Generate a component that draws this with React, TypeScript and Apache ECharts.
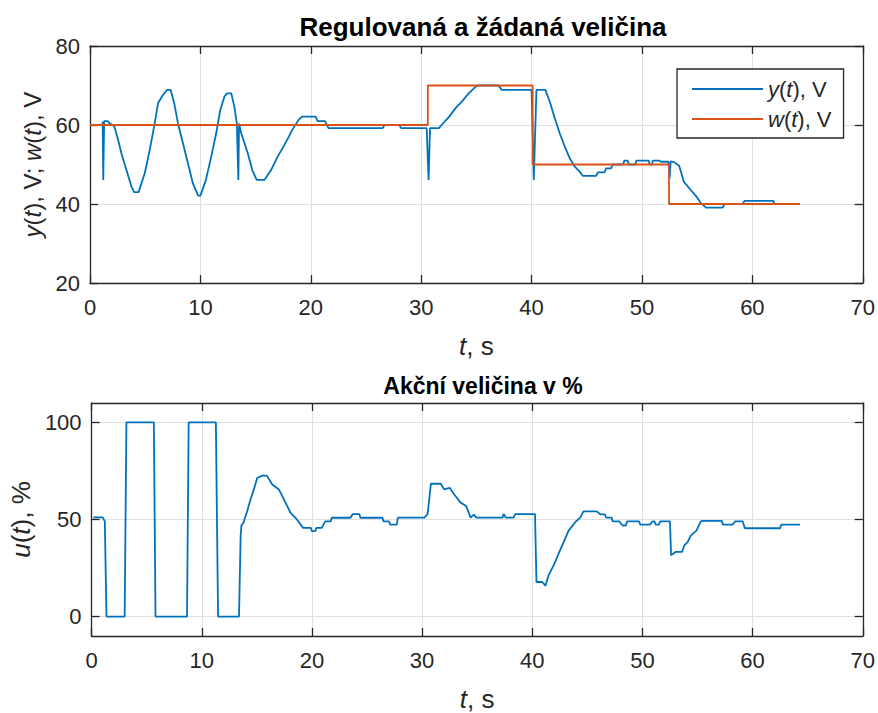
import React, { useEffect, useRef } from "react";
import * as echarts from "echarts";

// ---- data (t in s) ----
const yPoints: number[][] = [
  [1.05, 60.6], [1.15, 60.6], [1.2, 46.1], [1.28, 61], [1.6, 61], [1.75, 60.5], [2.2, 59.7], [2.55, 56.2],
  [2.85, 52.8], [3.3, 48.6], [3.76, 44.4], [4.0, 43], [4.4, 43], [4.96, 47.8], [5.41, 53.7], [5.86, 60.4],
  [6.16, 65.5], [6.6, 67.6], [7.0, 68.9], [7.3, 68.9], [7.6, 65.9], [7.97, 60.4], [8.42, 55.4], [8.87, 50.3],
  [9.32, 45.2], [9.8, 42.1], [10.0, 42.1], [10.5, 46.1], [10.98, 52], [11.43, 57.9], [11.8, 63.8], [12.18, 67.2],
  [12.4, 68], [12.8, 68], [13.08, 64.6], [13.3, 60.4], [13.44, 46.1], [13.5, 60.4], [13.7, 57.9], [14.3, 52.8],
  [14.7, 48.6], [15.1, 46.1], [15.8, 46.1], [16.4, 48.6], [17.0, 52], [17.6, 54.9], [18.0, 57], [18.3, 58.7],
  [18.9, 61.3], [19.2, 62.1], [20.45, 62.1], [20.6, 61], [21.3, 61], [21.6, 59.2], [26.5, 59.2], [26.7, 60],
  [28.0, 60], [28.2, 59.2], [30.5, 59.2], [30.67, 46.1], [30.8, 59.2], [31.6, 59.2], [31.85, 60], [32.5, 62],
  [33.1, 64.2], [33.7, 66], [34.3, 68], [34.9, 69.6], [35.1, 70], [37.0, 70], [37.3, 68.9], [40.0, 68.9],
  [40.2, 46.1], [40.44, 68.9], [41.25, 68.9], [41.65, 65.9], [42.1, 61.7], [42.55, 57.9], [43.0, 54.6],
  [43.45, 51.6], [43.9, 49.5], [44.35, 48.2], [44.65, 47.1], [45.85, 47.1], [46.0, 48], [46.6, 48], [46.75, 49],
  [47.2, 49], [47.35, 50], [48.3, 50], [48.4, 51], [48.7, 51], [48.8, 50], [49.4, 50], [49.5, 51], [50.6, 51],
  [50.7, 50], [50.9, 50], [51.0, 51], [51.6, 51], [51.7, 50.7], [52.4, 50.7], [52.5, 46.5], [52.6, 50.8],
  [52.9, 50.6], [53.37, 49.7], [53.8, 45.6], [54.4, 43.6], [54.9, 42], [55.32, 40.3], [55.8, 39.1], [57.3, 39.1],
  [57.5, 40], [59.1, 40], [59.3, 40.8], [61.9, 40.8], [62.0, 40], [64.3, 40],
];

const wPoints: number[][] = [
  [0, 60], [30.6, 60], [30.6, 70], [40.1, 70], [40.1, 50], [52.45, 50], [52.45, 40], [64.3, 40],
];

const uPoints: number[][] = [
  [0.15, 51.1], [1.0, 51.1], [1.2, 49], [1.35, 0], [3.0, 0], [3.16, 100], [5.65, 100], [5.8, 0], [8.66, 0],
  [8.81, 100], [11.28, 100], [11.48, 0], [13.38, 0], [13.53, 41.8], [13.6, 46.9], [13.8, 48.6], [14.13, 54.5],
  [14.43, 60.4], [14.73, 65.5], [15.03, 71.4], [15.5, 72.6], [15.9, 72.6], [16.4, 68], [17.0, 65.5], [17.6, 58.7],
  [18.04, 53.6], [18.6, 50.3], [19.2, 45.7], [19.9, 45.7], [20.0, 44], [20.3, 44], [20.4, 45.7], [20.9, 45.7],
  [21.2, 49], [21.7, 49], [21.8, 50.9], [23.5, 50.9], [23.7, 52.8], [24.3, 52.8], [24.4, 50.9], [26.4, 50.9],
  [26.5, 49], [27.0, 49], [27.1, 47.4], [27.7, 47.4], [27.8, 51], [30.2, 51], [30.5, 52.8], [30.8, 68.4],
  [31.7, 68.4], [32.0, 65.5], [32.5, 66.3], [32.9, 63], [33.5, 58.7], [34.0, 57], [34.4, 51], [34.7, 52.5],
  [34.9, 51], [37.3, 51], [37.4, 52.8], [37.6, 51], [38.3, 51], [38.45, 52.8], [40.25, 52.8], [40.38, 17.8],
  [40.9, 17.8], [41.2, 15.9], [41.5, 21.5], [41.95, 26.5], [42.4, 32.5], [42.85, 38.4], [43.3, 44.3],
  [43.9, 48.6], [44.35, 51], [44.65, 54.2], [45.85, 54.2], [46.2, 52.6], [46.6, 52.6], [46.7, 51], [47.2, 51],
  [47.3, 49], [47.9, 49], [48.2, 46.9], [48.5, 46.9], [48.6, 49], [49.7, 49], [49.8, 47.4], [50.7, 47.4],
  [50.9, 49], [51.1, 49], [51.2, 47.4], [51.5, 47.4], [51.6, 49], [52.5, 49], [52.6, 31.6], [53.0, 33.3],
  [53.6, 33.3], [53.8, 36.7], [54.1, 38.4], [54.4, 41.8], [54.9, 44.3], [55.3, 49], [55.5, 49.3], [57.2, 49.3],
  [57.3, 47.4], [58.2, 47.4], [58.4, 49], [59.1, 49], [59.3, 45.5], [62.5, 45.5], [62.6, 47.4], [64.3, 47.4],
];

const xTickRange = { min: 0, max: 70, interval: 10 };
const yTopRange = { min: 20, max: 80, interval: 20 };
const uRange = { min: -10, max: 110 };
const uTicks = [0, 50, 100];

const titleTop = "Regulovaná a žádaná veličina";
const titleBottom = "Akční veličina v %";

const BLUE = "#0072BD";
const ORANGE = "#D95319";
const AX = "#262626";
const GRIDC = "#e0e0e0";
const FONT = "Liberation Sans, Arial, Helvetica, sans-serif";
const TICK_FS = 22;
const XNAME_FS = 26;
const YNAME_FS = 24;
const LEG_FS = 22;

export default function App() {
  const ref = useRef<HTMLDivElement>(null);
  useEffect(() => {
    if (!ref.current) return;
    const chart = echarts.init(ref.current, undefined, { renderer: "svg" });
    const mkRich = (fs: number) => ({
      i: { fontStyle: "italic", fontSize: fs, fontFamily: FONT, color: AX },
      n: { fontSize: fs, fontFamily: FONT, color: AX },
    });
    const mainX = (gi: number) => ({
      type: "value",
      gridIndex: gi,
      ...xTickRange,
      name: "{i|t}{n|, s}",
      nameLocation: "middle",
      nameGap: 50,
      nameTextStyle: { rich: mkRich(XNAME_FS) },
      axisLine: { show: true, onZero: false, lineStyle: { color: AX, width: 1.3 } },
      axisTick: { show: true, inside: true, length: 8, lineStyle: { color: AX, width: 1.3 } },
      axisLabel: { color: AX, fontSize: TICK_FS, fontFamily: FONT, margin: 13 },
      splitLine: { show: true, lineStyle: { color: GRIDC, width: 1 } },
    });
    const topX = (gi: number) => ({
      type: "value",
      gridIndex: gi,
      position: "top",
      ...xTickRange,
      axisLine: { show: true, onZero: false, lineStyle: { color: AX, width: 1.3 } },
      axisTick: { show: true, inside: true, length: 8, lineStyle: { color: AX, width: 1.3 } },
      axisLabel: { show: false },
      splitLine: { show: false },
    });
    const yCommon = {
      axisLine: { show: true, onZero: false, lineStyle: { color: AX, width: 1.3 } },
      axisTick: { show: true, inside: true, length: 8, lineStyle: { color: AX, width: 1.3 } },
    };
    const option: any = {
      animation: false,
      backgroundColor: "#ffffff",
      title: [
        {
          text: titleTop,
          left: 478,
          top: 9,
          textAlign: "center",
          textStyle: { fontSize: 26, fontWeight: "bold", color: "#000", fontFamily: FONT },
        },
        {
          text: titleBottom,
          left: 478,
          top: 369,
          textAlign: "center",
          textStyle: { fontSize: 23, fontWeight: "bold", color: "#000", fontFamily: FONT },
        },
      ],
      legend: {
        data: ["y(t), V", "w(t), V"],
        orient: "vertical",
        left: 677,
        top: 69,
        padding: [9, 12, 8, 15],
        itemGap: 8,
        itemWidth: 71,
        itemHeight: 2,
        icon: "rect",
        borderColor: AX,
        borderWidth: 1.3,
        backgroundColor: "#fff",
        formatter: (name: string) =>
          name.startsWith("y") ? "{i|y}{n|(}{i|t}{n|), V}" : "{i|w}{n|(}{i|t}{n|), V}",
        textStyle: { fontSize: LEG_FS, fontFamily: FONT, color: AX, rich: mkRich(LEG_FS) },
      },
      grid: [
        { left: 90, top: 46, width: 776, height: 237 },
        { left: 90, top: 403, width: 776, height: 235 },
      ],
      xAxis: [mainX(0), topX(0), mainX(1), topX(1)],
      yAxis: [
        {
          type: "value",
          gridIndex: 0,
          ...yTopRange,
          name: "{i|y}{n|(}{i|t}{n|), V; }{i|w}{n|(}{i|t}{n|), V}",
          nameLocation: "middle",
          nameGap: 45,
          nameTextStyle: { rich: mkRich(YNAME_FS) },
          ...yCommon,
          axisLabel: { color: AX, fontSize: TICK_FS, fontFamily: FONT, margin: 10 },
          splitLine: { show: true, lineStyle: { color: GRIDC, width: 1 } },
        },
        {
          type: "value",
          gridIndex: 0,
          position: "right",
          ...yTopRange,
          ...yCommon,
          axisLabel: { show: false },
          splitLine: { show: false },
        },
        {
          type: "value",
          gridIndex: 1,
          ...uRange,
          name: "{i|u}{n|(}{i|t}{n|), %}",
          nameLocation: "middle",
          nameGap: 45,
          nameTextStyle: { rich: mkRich(YNAME_FS + 2) },
          axisLine: yCommon.axisLine,
          axisTick: { ...yCommon.axisTick, customValues: uTicks },
          axisLabel: { color: AX, fontSize: TICK_FS, fontFamily: FONT, margin: 10, customValues: uTicks },
          splitLine: { show: true, lineStyle: { color: GRIDC, width: 1 } },
        },
        {
          type: "value",
          gridIndex: 1,
          position: "right",
          ...uRange,
          axisLine: yCommon.axisLine,
          axisTick: { ...yCommon.axisTick, customValues: uTicks },
          axisLabel: { show: false },
          splitLine: { show: false },
        },
      ],
      series: [
        {
          name: "y(t), V",
          type: "line",
          xAxisIndex: 0,
          yAxisIndex: 0,
          data: yPoints,
          showSymbol: false,
          lineStyle: { color: BLUE, width: 1.8 },
          itemStyle: { color: BLUE },
          z: 3,
        },
        {
          name: "w(t), V",
          type: "line",
          xAxisIndex: 0,
          yAxisIndex: 0,
          data: wPoints,
          showSymbol: false,
          lineStyle: { color: ORANGE, width: 1.8 },
          itemStyle: { color: ORANGE },
          z: 4,
        },
        {
          name: "u(t), %",
          type: "line",
          xAxisIndex: 2,
          yAxisIndex: 2,
          data: uPoints,
          showSymbol: false,
          lineStyle: { color: BLUE, width: 1.8 },
          itemStyle: { color: BLUE },
        },
      ],
    };
    chart.setOption(option);
    return () => chart.dispose();
  }, []);
  return (
    <div
      ref={ref}
      style={{ position: "fixed", left: 0, top: 0, width: 878, height: 713, background: "#fff" }}
    />
  );
}
